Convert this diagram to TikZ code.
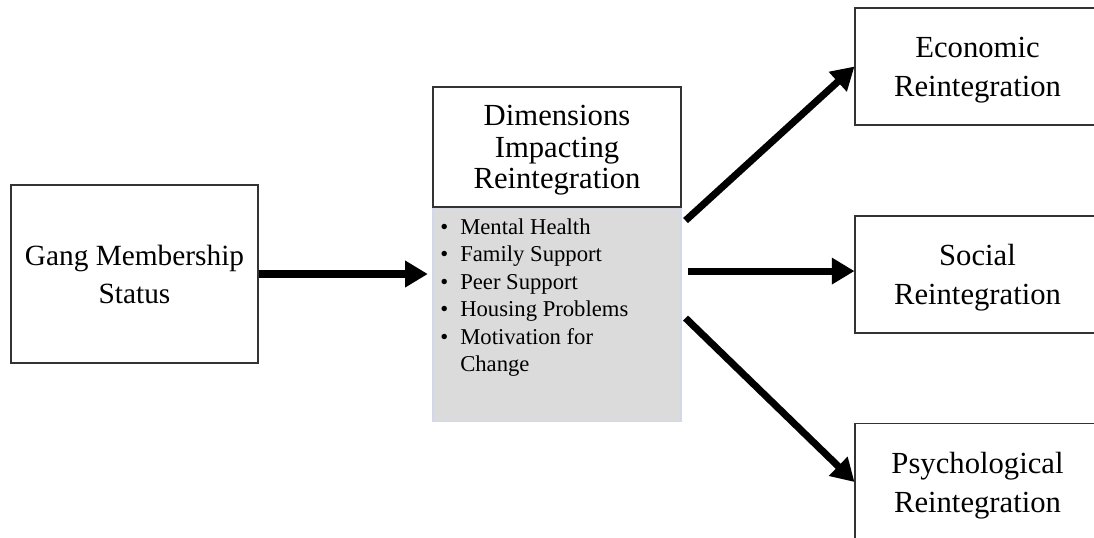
\documentclass[tikz,border=0pt]{standalone}
\usepackage{fontspec}
\setmainfont{Liberation Serif}
\usetikzlibrary{arrows.meta}
\definecolor{boxline}{HTML}{333333}
\definecolor{grayfill}{HTML}{DBDBDB}
\definecolor{grayline}{HTML}{D3D7EA}
\begin{document}
\begin{tikzpicture}[x=0.75pt,y=-0.75pt,
  box/.style={draw=boxline,line width=0.8pt,fill=white,align=center,inner sep=0pt,text depth=0pt},
  rbox/.style={box,minimum width=183.75pt,minimum height=87.75pt,font=\fontsize{23}{29.25}\selectfont},
  arr/.style={line width=5.3pt,-{Triangle[length=17pt,width=19pt]}},
  item/.style={anchor=base west,inner sep=0pt,font=\fontsize{17}{20.5}\selectfont}]
\useasboundingbox (0,0) rectangle (1094,537);
% left box
\node[box,minimum width=185.25pt,minimum height=133.5pt,font=\fontsize{22}{28.5}\selectfont] (gang) at (134.5,274) {Gang Membership\\Status};
% middle
\node[box,minimum width=186pt,minimum height=90pt,font=\fontsize{23}{23.6}\selectfont] (dim) at (557,147) {Dimensions\\Impacting\\Reintegration};
\node[draw=grayline,fill=grayfill,line width=0.8pt,minimum width=186pt,minimum height=159.75pt,inner sep=0pt,anchor=north] (gray) at (dim.south) {};
% bullet items
\node[item] (b1) at (440,234.5) {\textbullet};
\node[item] (t1) at (460,234.5) {Mental Health};
\node[item] (b2) at (440,261.9) {\textbullet};
\node[item] (t2) at (460,261.9) {Family Support};
\node[item] (b3) at (440,289.3) {\textbullet};
\node[item] (t3) at (460,289.3) {Peer Support};
\node[item] (b4) at (440,316.7) {\textbullet};
\node[item] (t4) at (460,316.7) {Housing Problems};
\node[item] (b5) at (440,344.1) {\textbullet};
\node[item] (t5) at (460,344.1) {Motivation for};
\node[item] (t6) at (460,371.5) {Change};
% right boxes
\node[rbox] (econ) at (977.5,66.5) {Economic\\Reintegration};
\node[rbox] (social) at (977.5,274.5) {Social\\Reintegration};
\node[rbox] (psych) at (977.5,482) {Psychological\\Reintegration};
% arrows
\coordinate (u1) at ([shift={(4,13)}]gray.north east);
\coordinate (m1) at ([shift={(6,-43.5)}]gray.east);
\coordinate (l1) at ([shift={(4,3.5)}]gray.east);
\draw[arr,shorten >=3.5pt] (gang.east) -- (gang.east -| gray.west);
\draw[arr] (u1) -- (econ.west);
\draw[arr] (m1) -- (m1 -| social.west);
\draw[arr] (l1) -- (psych.west);
\end{tikzpicture}
\end{document}
